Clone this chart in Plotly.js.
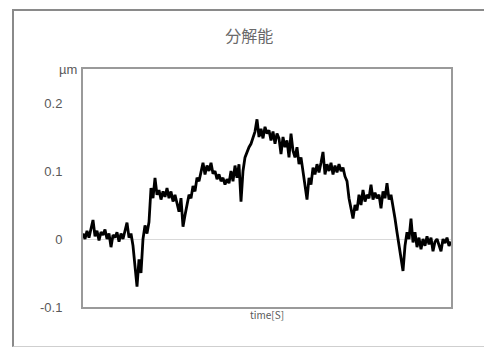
<!DOCTYPE html>
<html>
<head>
<meta charset="utf-8">
<script src="https://cdn.plot.ly/plotly-3.0.1.min.js"></script>
<style>
html,body{margin:0;padding:0;background:#fff;}
#wrap{position:relative;width:484px;height:347px;overflow:hidden;}
#frame{position:absolute;left:12px;top:9px;width:520px;height:335px;border:2px solid #8a8a8a;border-bottom:1px solid #cfcfcf;}
#chart{position:absolute;left:0;top:0;width:484px;height:347px;}
</style>
</head>
<body>
<div id="wrap"><div id="frame"></div><div id="chart"></div></div>
<script>
// displacement in µm, sampled along time
var displacement = [
 0.008, 0.0, 0.012, 0.002, 0.015, 0.028, 0.004, 0.012, -0.002, 0.01,
 0.006, 0.014, 0.0, 0.008, -0.012, 0.006, 0.002, 0.01, -0.004, 0.008,
 0.0, 0.012, 0.024, 0.002, 0.008, -0.01, -0.045, -0.07, -0.03, -0.05,
 0.0, 0.02, 0.008, 0.025, 0.075, 0.06, 0.09, 0.065, 0.072, 0.058,
 0.07, 0.062, 0.075, 0.06, 0.07, 0.055, 0.065, 0.05, 0.04, 0.06,
 0.018, 0.035, 0.05, 0.065, 0.06, 0.078, 0.07, 0.09, 0.085, 0.1,
 0.112, 0.095, 0.108, 0.1, 0.112, 0.096, 0.1, 0.088, 0.095, 0.085,
 0.09, 0.08, 0.088, 0.082, 0.1, 0.085, 0.108, 0.09, 0.11, 0.055,
 0.1, 0.12, 0.128, 0.135, 0.14, 0.15, 0.158, 0.176, 0.15, 0.162,
 0.148, 0.165, 0.155, 0.16, 0.145, 0.158, 0.14, 0.155, 0.148, 0.125,
 0.15, 0.135, 0.145, 0.12, 0.155, 0.13, 0.12, 0.135, 0.11, 0.12,
 0.1, 0.085, 0.058, 0.09, 0.08, 0.105, 0.095, 0.11, 0.098, 0.112,
 0.128, 0.095, 0.11, 0.1, 0.112, 0.095, 0.108, 0.098, 0.11, 0.1,
 0.105, 0.092, 0.085, 0.06, 0.045, 0.03, 0.05, 0.042, 0.065, 0.05,
 0.072, 0.055, 0.065, 0.06, 0.08, 0.058, 0.068, 0.06, 0.065, 0.045,
 0.07, 0.06, 0.082, 0.058, 0.065, 0.05, 0.03, 0.01, -0.01, -0.03,
 -0.047, -0.01, 0.01, 0.0, 0.03, -0.005, 0.01, -0.012, 0.002, -0.015,
 0.0, -0.01, 0.004, -0.008, 0.002, -0.018, -0.004, 0.0, -0.008, -0.018,
 0.0, -0.006, 0.002, -0.01, -0.004
];
var yTickVals = [-0.1, 0, 0.1, 0.2];
var yTickText = ['-0.1', '0', '0.1', '0.2'];
var chartTitle = '分解能';
var xTitle = 'time[S]';
var yUnit = 'µm';

var time = displacement.map(function(v, i){ return i; });

var trace = {
  x: time, y: displacement, type: 'scatter', mode: 'lines',
  line: {color: '#000000', width: 2.8}, hoverinfo: 'skip'
};

var layout = {
  width: 484, height: 347,
  margin: {l: 83, r: 33, t: 69, b: 40, pad: 0},
  paper_bgcolor: 'rgba(0,0,0,0)', plot_bgcolor: '#ffffff',
  showlegend: false,
  font: {family: 'Noto Sans CJK JP, DejaVu Sans, sans-serif', color: '#595959'},
  title: {text: chartTitle, x: 0.515, xanchor: 'center', y: 0.895, yanchor: 'middle',
          font: {size: 16, color: '#6a6a6a'}},
  xaxis: {
    range: [0, time.length - 1], showticklabels: false, ticks: '',
    showgrid: false, zeroline: false,
    showline: true, mirror: true, linecolor: '#9a9a9a', linewidth: 2,
    title: {text: xTitle, font: {size: 10, color: '#595959'}, standoff: 4}
  },
  yaxis: {
    range: [-0.1, 0.25], tickvals: yTickVals, ticktext: yTickText,
    ticks: '', ticklabelstandoff: 16, tickfont: {size: 13, color: '#595959', family: 'Liberation Sans, DejaVu Sans, sans-serif'},
    showgrid: false, zeroline: true, zerolinecolor: '#d9d9d9', zerolinewidth: 1,
    showline: true, mirror: true, linecolor: '#9a9a9a', linewidth: 2
  },
  annotations: [{
    text: yUnit, xref: 'paper', yref: 'paper', x: -0.01, y: 1.0,
    xanchor: 'right', yanchor: 'middle', showarrow: false,
    font: {size: 13, color: '#595959', family: 'Liberation Sans, DejaVu Sans, sans-serif'}
  }]
};

Plotly.newPlot('chart', [trace], layout, {staticPlot: true, displayModeBar: false});
</script>
</body>
</html>
